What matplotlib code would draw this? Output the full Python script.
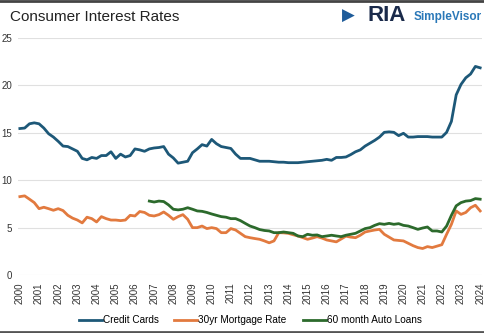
import numpy as np
import matplotlib
matplotlib.use('Agg')
import matplotlib.pyplot as plt

plt.rcParams['font.family'] = ['Liberation Sans', 'DejaVu Sans']

# quarterly data, 2000 Q1 .. 2024 Q1
cc_years = [2000 + i * 0.25 for i in range(97)]
credit_cards = [15.45, 15.5, 15.95, 16.05, 15.95, 15.5, 14.9, 14.55, 14.1, 13.6, 13.55, 13.3,
                13.05, 12.3, 12.15, 12.4, 12.3, 12.6, 12.6, 13.0, 12.3, 12.75, 12.45, 12.6,
                13.3, 13.2, 13.05, 13.3, 13.4, 13.45, 13.55, 12.75, 12.35, 11.8, 11.9, 12.0,
                12.9, 13.3, 13.75, 13.6, 14.3, 13.85, 13.55, 13.45, 13.35, 12.75, 12.3, 12.3,
                12.3, 12.15, 12.0, 12.0, 12.0, 11.95, 11.9, 11.9, 11.85, 11.85, 11.85, 11.9,
                11.95, 12.0, 12.05, 12.1, 12.2, 12.1, 12.4, 12.4, 12.45, 12.7, 13.0, 13.2,
                13.6, 13.9, 14.2, 14.55, 15.05, 15.1, 15.05, 14.7, 14.95, 14.55, 14.55, 14.6,
                14.6, 14.6, 14.55, 14.55, 14.55, 15.05, 16.2, 19.0, 20.1, 20.8, 21.2, 22.0,
                21.85]
mortgage = [8.27, 8.35, 8.0, 7.64, 7.0, 7.15, 7.0, 6.83, 7.0, 6.8, 6.3, 6.0,
            5.8, 5.5, 6.1, 5.95, 5.6, 6.16, 5.95, 5.8, 5.8, 5.74, 5.8, 6.3,
            6.23, 6.7, 6.6, 6.3, 6.23, 6.37, 6.65, 6.3, 5.88, 6.16, 6.37, 5.88,
            5.0, 5.0, 5.17, 4.9, 5.0, 4.9, 4.47, 4.47, 4.9, 4.75, 4.4, 4.05,
            3.94, 3.85, 3.77, 3.6, 3.4, 3.6, 4.47, 4.45, 4.4, 4.25, 4.12, 3.95,
            3.77, 3.9, 4.05, 3.9, 3.7, 3.6, 3.5, 3.8, 4.1, 4.0, 3.94, 4.2,
            4.54, 4.65, 4.75, 4.82, 4.3, 4.0, 3.7, 3.65, 3.6, 3.35, 3.1, 2.9,
            2.8, 3.0, 2.9, 3.05, 3.2, 4.3, 5.35, 6.76, 6.4, 6.6, 7.1, 7.36,
            6.76]
auto_years = [2006.75 + i * 0.25 for i in range(70)]
auto_loans = [7.8, 7.7, 7.8, 7.75, 7.4, 6.94, 6.87, 6.94, 7.1, 6.94, 6.76, 6.72,
              6.6, 6.44, 6.3, 6.16, 6.1, 5.95, 5.95, 5.74, 5.45, 5.17, 5.0, 4.8,
              4.7, 4.65, 4.47, 4.47, 4.54, 4.47, 4.4, 4.12, 4.05, 4.3, 4.2, 4.23,
              4.05, 4.12, 4.2, 4.12, 4.05, 4.2, 4.3, 4.4, 4.65, 4.9, 5.0, 5.24,
              5.42, 5.35, 5.45, 5.35, 5.42, 5.24, 5.17, 5.0, 4.82, 4.96, 5.07, 4.65,
              4.65, 4.54, 5.17, 6.3, 7.3, 7.64, 7.8, 7.85, 8.06, 8.0]
year_ticks = list(range(2000, 2025))

fig = plt.figure(figsize=(4.85, 3.33), dpi=100)
ax = fig.add_axes([0.037, 0.174, 0.957, 0.712])

ax.plot(cc_years, credit_cards, color='#1d5878', lw=2, label='Credit Cards')
ax.plot(cc_years, mortgage, color='#e27a3f', lw=2, label='30yr Mortgage Rate')
ax.plot(auto_years, auto_loans, color='#2c6a2c', lw=2, label='60 month Auto Loans')

ax.set_ylim(0, 25)
ax.set_xlim(1999.9, 2024.1)
ax.set_yticks([0, 5, 10, 15, 20, 25])
ax.set_xticks(year_ticks)
ax.set_xticklabels([str(y) for y in year_ticks], rotation=90, fontsize=7, color='#333333')
ax.tick_params(axis='y', labelsize=7, labelcolor='#333333', length=0, pad=4)
ax.tick_params(axis='x', length=0, pad=5)
ax.grid(axis='y', color='#e0e0e0', lw=0.8)
ax.set_axisbelow(True)
for s in ax.spines.values():
    s.set_visible(False)

ax.legend(loc='center', bbox_to_anchor=(0.5, -0.19), ncol=3, frameon=False,
          fontsize=7.2, handlelength=2.3, columnspacing=1.6, handletextpad=0.1)

fig.text(0.02, 0.95, 'Consumer Interest Rates', fontsize=11, va='center', color='#222222')
fig.text(0.757, 0.953, 'RIA', fontsize=16, fontweight='bold', va='center', color='#1a2a4a')
fig.text(0.994, 0.948, 'SimpleVisor', fontsize=8.5, fontweight='bold', va='center', ha='right',
         color='#2a78b8')
fig.text(0.706, 0.953, '\u25B6', fontsize=12, va='center', color='#1f5c9a', family='DejaVu Sans')

# frame lines top and bottom
fig.add_artist(plt.Line2D([0, 1], [0.997, 0.997], color='#444444', lw=2))
fig.add_artist(plt.Line2D([0, 1], [0.004, 0.004], color='#555555', lw=2))

fig.savefig('out.png', dpi=100)
